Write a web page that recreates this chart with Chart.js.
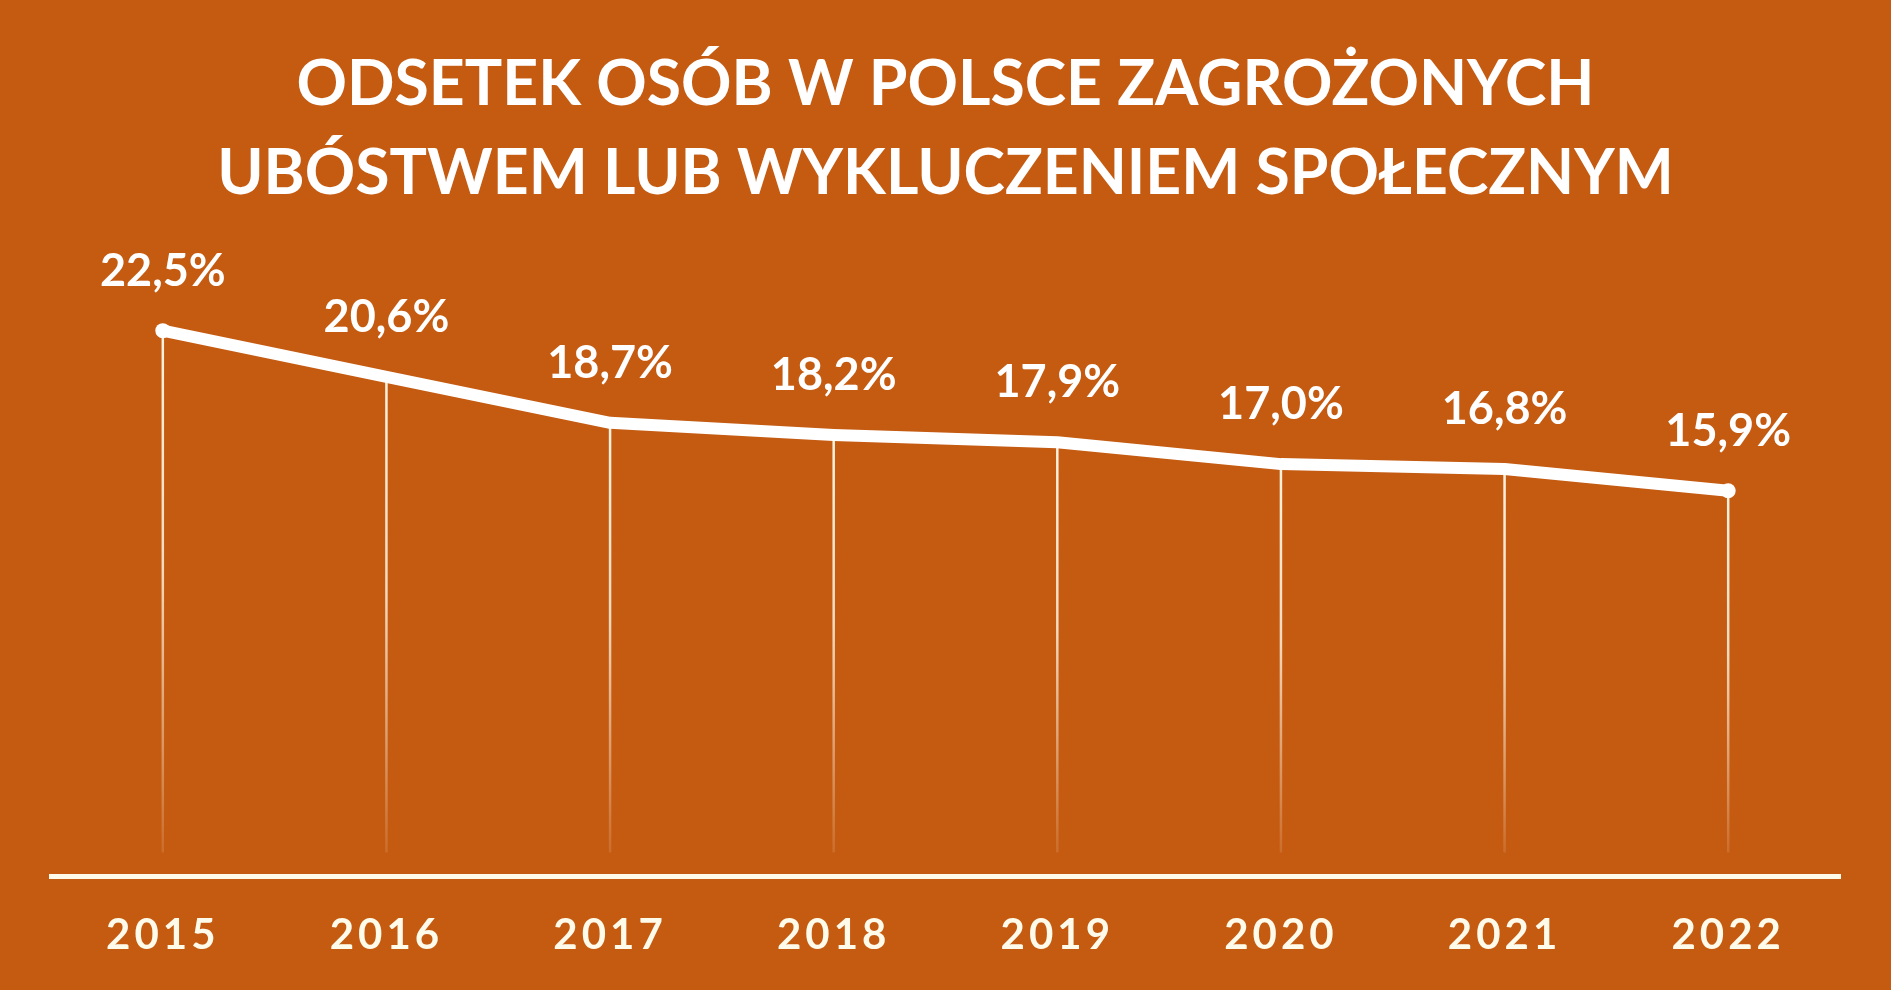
<!DOCTYPE html>
<html lang="pl">
<head>
<meta charset="utf-8">
<title>Odsetek osób w Polsce zagrożonych ubóstwem lub wykluczeniem społecznym</title>
<script src="https://cdn.jsdelivr.net/npm/chart.js@4.4.1/dist/chart.umd.min.js"></script>
<style>
  html, body { margin: 0; padding: 0; background: #c55a11; }
  #wrap { width: 1891px; height: 990px; position: relative; }
</style>
</head>
<body>
<div id="wrap"><canvas id="chart"></canvas></div>
<script>
const years = ["2015", "2016", "2017", "2018", "2019", "2020", "2021", "2022"];
const percentValues = [22.5, 20.6, 18.7, 18.2, 17.9, 17.0, 16.8, 15.9];
const titleLines = [
  "ODSETEK OSÓB W POLSCE ZAGROŻONYCH",
  "UBÓSTWEM LUB WYKLUCZENIEM SPOŁECZNYM",
];

const BG = "#c55a11";
const CREAM = "#fffbea";
const FONT = "Lato, 'Open Sans', sans-serif";

// thin fading lines from each point down to the axis
const dropLines = {
  id: "dropLines",
  beforeDatasetsDraw(chart) {
    const ctx = chart.ctx;
    const meta = chart.getDatasetMeta(0);
    const yZero = chart.scales.y.getPixelForValue(0);
    const yEnd = yZero - 24;
    ctx.save();
    ctx.lineWidth = 2.5;
    meta.data.forEach((pt) => {
      const grad = ctx.createLinearGradient(0, pt.y, 0, yEnd);
      grad.addColorStop(0, "rgba(255, 251, 234, 0.95)");
      grad.addColorStop(0.45, "rgba(255, 251, 234, 0.8)");
      grad.addColorStop(1, "rgba(255, 251, 234, 0.12)");
      ctx.strokeStyle = grad;
      ctx.beginPath();
      ctx.moveTo(pt.x, pt.y);
      ctx.lineTo(pt.x, yEnd);
      ctx.stroke();
    });
    ctx.restore();
  },
};

// value labels above the points, then wide letter spacing for the year ticks
const valueLabels = {
  id: "valueLabels",
  afterDatasetsDraw(chart) {
    const ctx = chart.ctx;
    const meta = chart.getDatasetMeta(0);
    ctx.save();
    ctx.fillStyle = "#ffffff";
    ctx.font = "bold 45px " + FONT;
    ctx.textAlign = "center";
    ctx.textBaseline = "alphabetic";
    meta.data.forEach((pt, i) => {
      const txt = percentValues[i].toFixed(1).replace(".", ",") + "%";
      ctx.fillText(txt, pt.x, pt.y - 45);
    });
    ctx.restore();
    ctx.letterSpacing = "4px";
  },
  afterDraw(chart) {
    chart.ctx.letterSpacing = "0px";
  },
};

function build() {
  new Chart(document.getElementById("chart"), {
    type: "line",
    data: {
      labels: years,
      datasets: [{
        data: percentValues,
        borderColor: "#ffffff",
        borderWidth: 12,
        borderCapStyle: "round",
        borderJoinStyle: "round",
        tension: 0,
        fill: false,
        pointRadius: percentValues.map((v, i) => (i === 0 || i === percentValues.length - 1 ? 7.5 : 0)),
        pointBackgroundColor: "#ffffff",
        pointBorderWidth: 0,
        pointHoverRadius: 0,
      }],
    },
    options: {
      responsive: true,
      maintainAspectRatio: false,
      animation: false,
      events: [],
      layout: { padding: { left: 51, right: 51, top: 0, bottom: -5 } },
      plugins: {
        legend: { display: false },
        tooltip: { enabled: false },
        title: {
          display: true,
          text: titleLines,
          color: "#ffffff",
          font: { family: FONT, size: 62.5, weight: "bold", lineHeight: 1.42 },
          padding: { top: 40.5, bottom: 52 },
        },
      },
      scales: {
        x: {
          offset: true,
          grid: { display: false, drawTicks: false },
          border: { display: true, color: CREAM, width: 5 },
          ticks: {
            color: CREAM,
            padding: 34,
            z: 1,
            font: { family: FONT, size: 42, weight: "bold" },
          },
        },
        y: {
          display: false,
          min: 0,
          max: 25,
        },
      },
    },
    plugins: [dropLines, valueLabels],
  });
}

document.fonts.load("bold 44px Lato").then(build, build);
</script>
</body>
</html>
